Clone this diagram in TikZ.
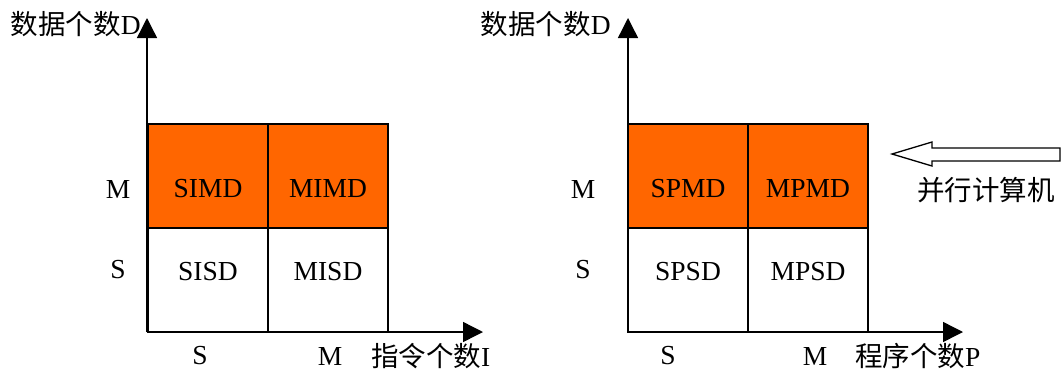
\documentclass[tikz,border=0pt]{standalone}
\usepackage{fontspec}
\setmainfont{Liberation Serif}
\newfontfamily\cjk{Noto Sans CJK SC}
\usetikzlibrary{arrows.meta}
\definecolor{cellorange}{RGB}{255,102,0}
\begin{document}
\begin{tikzpicture}[x=1pt,y=-1pt,
  cell/.style={draw=black,line width=1.6pt,minimum width=120pt,minimum height=104pt,inner sep=0pt},
  hot/.style={cell,fill=cellorange},
  lab/.style={font=\fontsize{27.5}{32}\selectfont,inner sep=0pt},
  axis/.style={line width=1.4pt,-{Triangle[length=20pt,width=20pt]}},
  hollow/.style={draw=black,line width=1.3pt,fill=white}]
\useasboundingbox (0,0) rectangle (1062,373);
% ---------- left diagram ----------
\node[hot]  (lsimd) at (208,176) {};
\node[hot]  (lmimd) at (328,176) {};
\node[cell] (lsisd) at (208,280.5) {};
\node[cell] (lmisd) at (328,280.5) {};
\node[lab] (tsimd) at (208,189) {SIMD};
\node[lab] (tmimd) at (328,189) {MIMD};
\node[lab] (tsisd) at (208,272) {SISD};
\node[lab] (tmisd) at (328,272) {MISD};
\coordinate (lo) at (147,332);
\coordinate (ly) at (147,18);
\coordinate (lx) at (483,332);
\draw[axis] (lo) -- (ly);
\draw[axis] (lo) -- (lx);
\node[lab] (lm) at (118,189) {M};
\node[lab] (ls) at (118,270) {S};
\node[lab] (lbs) at (200,356) {S};
\node[lab] (lbm) at (330,356) {M};
\node[lab,anchor=west] (lxl) at (371,356) {{\cjk 指令个数}I};
\node[lab,anchor=east] (lyl) at (141,24) {{\cjk 数据个数}D};
% ---------- right diagram ----------
\node[hot]  (rspmd) at (688,176) {};
\node[hot]  (rmpmd) at (808,176) {};
\node[cell] (rspsd) at (688,280.5) {};
\node[cell] (rmpsd) at (808,280.5) {};
\node[lab] (tspmd) at (688,189) {SPMD};
\node[lab] (tmpmd) at (808,189) {MPMD};
\node[lab] (tspsd) at (688,272) {SPSD};
\node[lab] (tmpsd) at (808,272) {MPSD};
\coordinate (ro) at (628,332);
\coordinate (ry) at (628,18);
\coordinate (rx) at (963,332);
\draw[axis] (ro) -- (ry);
\draw[axis] (ro) -- (rx);
\node[lab] (rm) at (583,189) {M};
\node[lab] (rs) at (583,270) {S};
\node[lab] (rbs) at (668,356) {S};
\node[lab] (rbm) at (815,356) {M};
\node[lab,anchor=west] (rxl) at (855,356) {{\cjk 程序个数}P};
\node[lab,anchor=east] (ryl) at (611,24) {{\cjk 数据个数}D};
% ---------- hollow arrow ----------
\draw[hollow] (892,154) -- (932,142) -- (932,148) -- (1060,148) -- (1060,161) -- (932,161) -- (932,166) -- cycle;
\node[lab,anchor=west] (par) at (917,190) {\cjk 并行计算机};
\end{tikzpicture}
\end{document}
